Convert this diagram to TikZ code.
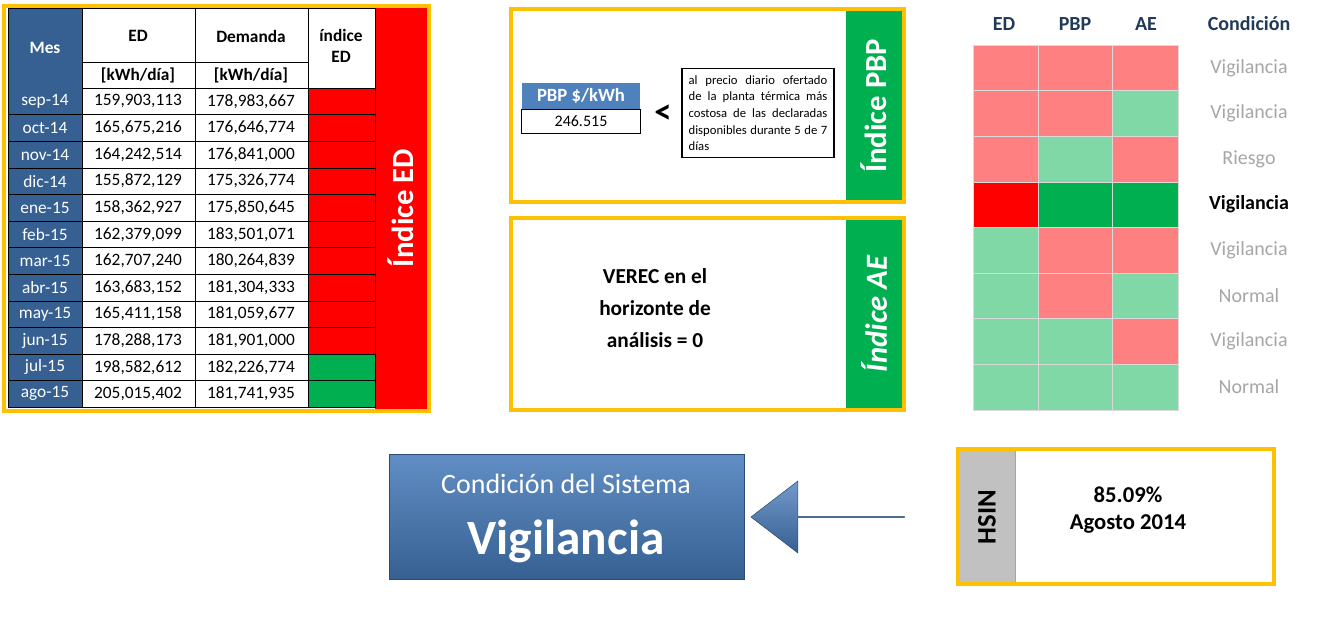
\documentclass[tikz,border=0pt]{standalone}
\usepackage{fontspec}
\setmainfont{Carlito}
\usetikzlibrary{positioning,shapes.arrows,calc}
\definecolor{myblue}{RGB}{54,96,146}
\definecolor{mylblue}{RGB}{79,129,189}
\definecolor{myred}{RGB}{255,0,0}
\definecolor{mygreen}{RGB}{0,176,80}
\definecolor{mylred}{RGB}{255,128,128}
\definecolor{mylgreen}{RGB}{128,216,166}
\definecolor{myyellow}{RGB}{255,192,0}
\definecolor{mygray}{RGB}{166,166,166}
\begin{document}
\begin{tikzpicture}[
  x=0.75pt, y=-0.75pt,
  frame/.style={draw=myyellow, line width=3pt},
  band/.style={font=\fontsize{23}{25}\selectfont\bfseries, rotate=90},
  hlabel/.style={font=\fontsize{15}{17}\selectfont\bfseries, text=myblue!60!black},
  cond/.style={font=\fontsize{15}{17}\selectfont, text=mygray},
  condb/.style={font=\fontsize{15}{17}\selectfont\bfseries, text=black}
]
\useasboundingbox (0,0) rectangle (1321,620);

% tabla ED
\draw[frame] (4,6) rectangle (429,411);
\fill[myred] (375,8) rectangle (427,409);
\node[band, text=white] (bandED) at (401,208) {Índice ED};
\fill[myblue] (8,8) rectangle (82,407);
\draw[thin] (8,8) rectangle (375,407);
\node[font=\fontsize{13}{14}\selectfont\bfseries, text=white] (mes) at (45,48) {Mes};
\draw[thin] (82,8) -- (82,407) (195,8) -- (195,407) (308,8) -- (308,407)
  (82,62) -- (308,62) (82,88) -- (375,88);
\node[font=\fontsize{13}{14}\selectfont\bfseries] (hED) at (138,36) {ED};
\node[font=\fontsize{13}{14}\selectfont\bfseries] (hDem) at (251,36) {Demanda};
\node[font=\fontsize{13}{14}\selectfont\bfseries] (uED) at (138,75) {[kWh/día]};
\node[font=\fontsize{13}{14}\selectfont\bfseries] (uDem) at (251,75) {[kWh/día]};
\node[font=\fontsize{13}{14}\selectfont\bfseries, align=center] (hIdx) at (341,46) {índice\\[2pt]ED};
\foreach \m/\e/\d/\c [count=\i] in {
  sep-14/159{,}903{,}113/178{,}983{,}667/myred,
  oct-14/165{,}675{,}216/176{,}646{,}774/myred,
  nov-14/164{,}242{,}514/176{,}841{,}000/myred,
  dic-14/155{,}872{,}129/175{,}326{,}774/myred,
  ene-15/158{,}362{,}927/175{,}850{,}645/myred,
  feb-15/162{,}379{,}099/183{,}501{,}071/myred,
  mar-15/162{,}707{,}240/180{,}264{,}839/myred,
  abr-15/163{,}683{,}152/181{,}304{,}333/myred,
  may-15/165{,}411{,}158/181{,}059{,}677/myred,
  jun-15/178{,}288{,}173/181{,}901{,}000/myred,
  jul-15/198{,}582{,}612/182{,}226{,}774/mygreen,
  ago-15/205{,}015{,}402/181{,}741{,}935/mygreen} {
  \pgfmathsetmacro{\ya}{88+(\i-1)*26.6}
  \pgfmathsetmacro{\yb}{88+\i*26.6}
  \filldraw[fill=\c, draw=black, thin] (308,\ya) rectangle (375,\yb);
  \draw[thin] (8,\yb) -- (308,\yb);
  \node[font=\fontsize{13}{14}\selectfont, text=white] (m\i) at (45,{(\ya+\yb)/2}) {\m};
  \node[font=\fontsize{13}{14}\selectfont] (e\i) at (138,{(\ya+\yb)/2}) {\e};
  \node[font=\fontsize{13}{14}\selectfont] (d\i) at (251,{(\ya+\yb)/2}) {\d};
}

% indice PBP
\draw[frame] (511,9) rectangle (904,202);
\fill[mygreen] (846,11) rectangle (902,200);
\node[band, text=white] (bandPBP) at (874,106) {Índice PBP};
\node[fill=mylblue, text=white, minimum width=89pt, minimum height=19pt, inner sep=0pt,
  font=\fontsize{14}{15}\selectfont\bfseries] (pbp) at (581,96) {PBP \$/kWh};
\node[draw, thin, minimum width=89pt, minimum height=18pt, inner sep=0pt, below=0pt of pbp,
  font=\fontsize{12}{14}\selectfont] (pbpval) {246.515};
\node[font=\fontsize{26}{28}\selectfont\bfseries] (menor) at (663,114) {<};
\node[draw, thick, text width=104pt, inner sep=5pt, align=justify,
  font=\fontsize{9.5}{12.5}\selectfont] (precio) at (758,113)
  {al precio diario ofertado de la planta térmica más costosa de las declaradas disponibles durante 5 de 7 días};

% indice AE
\draw[frame] (511,218) rectangle (904,410);
\fill[mygreen] (846,220) rectangle (902,408);
\node[band, text=white, font=\fontsize{23}{25}\selectfont\bfseries\itshape] (bandAE) at (874,314) {Índice AE};
\node[align=center, font=\fontsize{16}{24}\selectfont\bfseries] (verec) at (655,308)
  {VEREC en el\\horizonte de\\análisis = 0};

% matriz de condiciones
\node[hlabel] (cED) at (1004,24) {ED};
\node[hlabel] (cPBP) at (1075,24) {PBP};
\node[hlabel] (cAE) at (1146,24) {AE};
\node[hlabel] (cCond) at (1249,24) {Condición};
\foreach \a/\b/\c/\t/\s [count=\i] in {
  mylred/mylred/mylred/Vigilancia/cond,
  mylred/mylred/mylgreen/Vigilancia/cond,
  mylred/mylgreen/mylred/Riesgo/cond,
  myred/mygreen/mygreen/Vigilancia/condb,
  mylgreen/mylred/mylred/Vigilancia/cond,
  mylgreen/mylred/mylgreen/Normal/cond,
  mylgreen/mylgreen/mylred/Vigilancia/cond,
  mylgreen/mylgreen/mylgreen/Normal/cond} {
  \pgfmathsetmacro{\ya}{45+(\i-1)*45.6}
  \pgfmathsetmacro{\yb}{45+\i*45.6}
  \fill[\a] (973,\ya) rectangle (1038,\yb);
  \fill[\b] (1038,\ya) rectangle (1112,\yb);
  \fill[\c] (1112,\ya) rectangle (1178,\yb);
  \draw[white!85!black, thin] (973,\ya) rectangle (1038,\yb) (1038,\ya) rectangle (1112,\yb) (1112,\ya) rectangle (1178,\yb);
  \node[\s] (t\i) at (1249,{(\ya+\yb)/2}) {\t};
}

% condicion del sistema
\node[draw=myblue!80!black, top color=mylblue!90, bottom color=myblue, minimum width=266pt, minimum height=94pt,
  inner sep=0pt] (sistema) at (567,517) {};
\node[text=white, font=\fontsize{21}{23}\selectfont] (sisT) at (566,484) {Condición del Sistema};
\node[text=white, font=\fontsize{37}{40}\selectfont\bfseries] (sisV) at (566,541) {Vigilancia};

% HSIN
\draw[frame] (958,449) rectangle (1274,584);
\fill[mygray!70] (960,451) rectangle (1015,582);
\draw[thin, mygray] (1015,451) -- (1015,582);
\node[band, text=black, font=\fontsize{20}{22}\selectfont\bfseries] (hsin) at (987,517) {HSIN};
\node[align=center, font=\fontsize{17}{20}\selectfont\bfseries] (hsinval) at (1128,510) {85.09\%\\Agosto 2014};

\node[single arrow, shape border rotate=180, draw=myblue!80!black, top color=mylblue!80, bottom color=myblue,
  minimum height=115pt, minimum width=54pt, single arrow head extend=13pt, inner sep=0pt,
  single arrow tip angle=75] (flecha) at (828,517) {};
\end{tikzpicture}
\end{document}
